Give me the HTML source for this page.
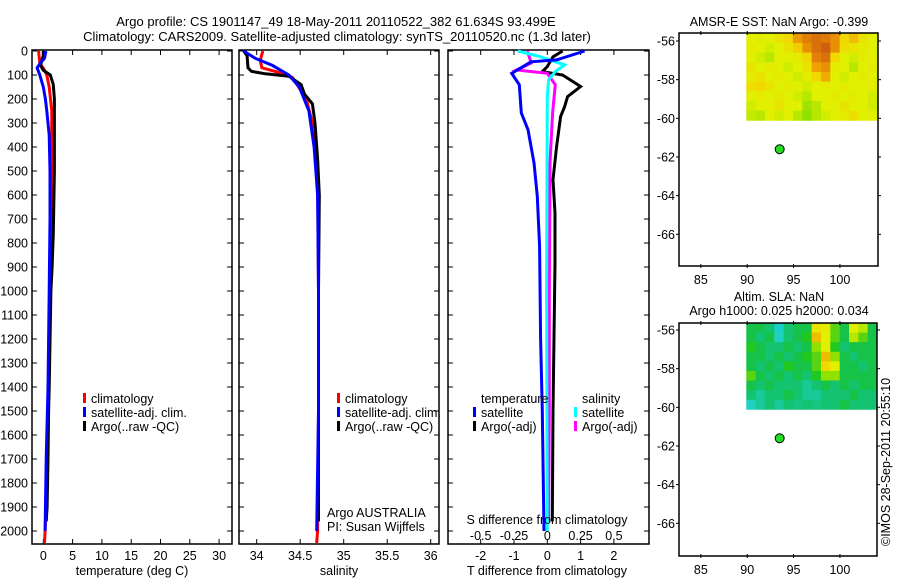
<!DOCTYPE html>
<html><head><meta charset="utf-8">
<style>
html,body{margin:0;padding:0;background:#fff;}
svg{display:block;font-family:"Liberation Sans",sans-serif;}
</style></head>
<body>
<svg id="chart" width="900" height="580" viewBox="0 0 900 580" xmlns="http://www.w3.org/2000/svg">
<text x="336" y="26" font-size="13" text-anchor="middle">Argo profile: CS 1901147_49 18-May-2011 20110522_382 61.634S 93.499E</text>
<text x="337" y="41" font-size="13" text-anchor="middle">Climatology: CARS2009. Satellite-adjusted climatology: synTS_20110520.nc (1.3d later)</text>
<g id="g"></g>
</svg>
<script>
// ---------- data ----------
const depthTicks = [0,100,200,300,400,500,600,700,800,900,1000,1100,1200,1300,1400,1500,1600,1700,1800,1900,2000];
const tempTicks = [0,5,10,15,20,25,30];
const salTicks = [34,34.5,35,35.5,36];
const salTickLabels = ["34","34.5","35","35.5","36"];
const tdiffTicks = [-2,-1,0,1,2];
const sdiffTicks = [-0.5,-0.25,0,0.25,0.5];
const sdiffTickLabels = ["-0.5","-0.25","0","0.25","0.5"];
const lonTicks = [85,90,95,100];
const latTicks = [-56,-58,-60,-62,-64,-66];

const tClimDepth = [0,50,80,100,150,250,500,800,1000,1400,1800,2000,2050];
const tClimVal = [-0.8,-0.6,0.2,0.6,1.0,1.45,1.4,1.3,1.2,0.9,0.6,0.3,0.2];
const tSatDepth = [0,30,50,70,100,150,200,250,350,500,700,1000,1400,1700,2000];
const tSatVal = [0.45,0.2,-0.5,-1.05,-0.6,0,0.35,0.6,1.0,1.15,1.15,1.0,0.8,0.5,0.3];
const tArgoDepth = [0,20,60,80,100,140,200,500,760,900,1000,1400,1500,1700,1900,1960];
const tArgoVal = [0,0,-0.5,0,1.2,1.7,1.9,1.9,1.7,1.5,1.3,1.0,0.9,0.8,0.65,0.5];

const sClimDepth = [0,40,70,90,110,200,300,500,1000,1500,2000,2050];
const sClimVal = [34.07,34.04,34.06,34.26,34.41,34.57,34.64,34.70,34.71,34.71,34.70,34.69];
const sArgoDepth = [0,20,70,85,95,105,140,180,220,300,450,600,1000,1400,1960];
const sArgoVal = [33.85,33.89,33.9,33.94,34.1,34.37,34.51,34.55,34.64,34.67,34.70,34.72,34.71,34.71,34.71];
const sSatDepth = [0,30,60,100,150,250,400,600,1000,1500,2000];
const sSatVal = [33.85,33.98,34.18,34.37,34.49,34.60,34.66,34.70,34.71,34.71,34.69];

const dTSatDepth = [0,37,45,93,141,258,328,466,606,815,1200,1500,2000];
const dTSatVal = [1.12,0.28,-0.49,-1.07,-0.84,-0.78,-0.58,-0.4,-0.3,-0.23,-0.2,-0.15,-0.1];
const dTArgoDepth = [0,24,65,86,100,148,190,232,273,398,536,675,883,1500,1960];
const dTArgoVal = [0.46,0.17,0,-0.15,0.46,1.0,0.61,0.52,0.4,0.28,0.17,0.23,0.23,0.17,0.15];
const dSSatDepth = [0,24,58,86,120,190,1000,2000];
const dSSatVal = [-0.22,-0.05,0.13,0.06,0.01,0,-0.005,0];
const dSArgoDepth = [0,50,79,93,141,258,466,1000,1500,1960];
const dSArgoVal = [-0.15,-0.12,-0.23,0,0.06,0.04,0.02,0.015,0.015,0.01];

const sstGrid = [
[.6,.62,.6,.65,.7,.82,.9,.95,.92,.85,.7,.75,.65,.6],
[.62,.6,.58,.6,.65,.72,.85,.95,1,.85,.68,.65,.62,.6],
[.6,.58,.55,.6,.6,.62,.7,.9,.95,.7,.6,.58,.62,.6],
[.65,.6,.62,.6,.58,.6,.65,.8,.85,.62,.6,.55,.6,.62],
[.62,.65,.6,.62,.6,.58,.62,.7,.78,.6,.58,.6,.62,.6],
[.68,.7,.65,.6,.62,.6,.58,.6,.62,.6,.62,.6,.6,.62],
[.6,.62,.6,.62,.6,.58,.55,.6,.6,.62,.6,.62,.6,.58],
[.58,.6,.6,.65,.6,.6,.52,.55,.6,.6,.65,.6,.6,.58],
[.56,.55,.6,.58,.6,.55,.5,.55,.58,.6,.62,.68,.6,.6]];
const slaGrid = [
[.35,.35,.3,.15,.3,.35,.35,.65,.62,.45,.35,.6,.55,.35],
[.35,.3,.35,.2,.3,.35,.4,.75,.6,.45,.35,.55,.45,.35],
[.4,.35,.3,.3,.35,.3,.35,.5,.6,.4,.3,.35,.35,.35],
[.35,.35,.3,.35,.3,.35,.4,.45,.75,.5,.35,.3,.35,.35],
[.35,.3,.35,.3,.4,.35,.35,.45,.7,.6,.35,.35,.3,.35],
[.45,.35,.3,.35,.3,.35,.3,.4,.5,.5,.35,.35,.35,.35],
[.35,.3,.35,.3,.3,.3,.25,.3,.35,.3,.35,.3,.35,.35],
[.3,.25,.3,.3,.35,.3,.25,.25,.3,.3,.3,.35,.3,.3],
[.2,.25,.3,.25,.3,.28,.3,.28,.3,.3,.35,.3,.3,.3]];
const gridLonRange = [89.9,104];
const gridLatRange = [-55.6,-60.1];
const argoLon = 93.5;
const argoLat = -61.6;

// ---------- helpers ----------
const NS = "http://www.w3.org/2000/svg";
const G = document.getElementById('g');
function mk(tag, attrs, parent){
  const e = document.createElementNS(NS, tag);
  for (const k in attrs) e.setAttribute(k, attrs[k]);
  (parent||G).appendChild(e);
  return e;
}
function txt(x,y,s,anchor,size){
  const e = mk('text',{x:x,y:y,'font-size':size||12,'text-anchor':anchor||'start'});
  e.textContent = s;
  return e;
}
const yTop = 50, yBot = 544;
const yD = d => 51 + d*0.2400;

const panels = [
  {x0:32,x1:232,name:'temperature-panel'},
  {x0:239,x1:439,name:'salinity-panel'},
  {x0:448,x1:649,name:'difference-panel'}
];
const xT = v => 43.3 + v*5.86;
const xS = v => 256.7 + (v-34)*87;
const xDT = v => 547.3 + v*33.3;
const xDS = v => 547.3 + v*133.2;

panels.forEach((p,i)=>{
  const r = mk('rect',{x:p.x0,y:yTop,width:p.x1-p.x0,height:yBot-yTop,fill:'none',stroke:'#000','stroke-width':1.5});
  
  
  depthTicks.forEach(d=>{
    const y = yD(d);
    const t1 = mk('line',{x1:p.x0,x2:p.x0+5,y1:y,y2:y,stroke:'#000'});
    
    
    const t2 = mk('line',{x1:p.x1-5,x2:p.x1,y1:y,y2:y,stroke:'#000'});
    
    
  });
});
depthTicks.forEach(d=>{
  const t = txt(28, yD(d)+4.5, String(d), 'end', 12.5);
  
  
});

function xTicks(vals, labels, sx, labelY, top, bottom){
  vals.forEach((v,i)=>{
    const x = sx(v);
    if (top){
      const a = mk('line',{x1:x,x2:x,y1:yTop,y2:yTop+5,stroke:'#000'});
      
      
    }
    if (bottom){
      const b = mk('line',{x1:x,x2:x,y1:yBot-5,y2:yBot,stroke:'#000'});
      
      
    }
    if (labelY){
      const t = txt(x, labelY, labels ? labels[i] : String(v), 'middle', 12.5);
      
      
    }
  });
}
xTicks(tempTicks, null, xT, 560, true, true);
xTicks(salTicks, salTickLabels, xS, 560, true, true);
xTicks(tdiffTicks, null, xDT, 560, true, true);
sdiffTickLabels.forEach((s,i)=>{
  const t = txt(xDS(sdiffTicks[i]), 540, s, 'middle', 12.5);
  
  
});

function profile(depths, vals, sx, color, name){
  const pts = depths.map((d,i)=> sx(vals[i]).toFixed(1)+','+yD(d).toFixed(1)).join(' ');
  const e = mk('polyline',{points:pts,fill:'none',stroke:color,'stroke-width':3,'stroke-linejoin':'miter'});
  
  
}
profile(tClimDepth,tClimVal,xT,'#ff0000','temp-climatology-line');
profile(tArgoDepth,tArgoVal,xT,'#000000','temp-argo-line');
profile(tSatDepth,tSatVal,xT,'#0000ff','temp-satellite-line');
profile(sClimDepth,sClimVal,xS,'#ff0000','sal-climatology-line');
profile(sArgoDepth,sArgoVal,xS,'#000000','sal-argo-line');
profile(sSatDepth,sSatVal,xS,'#0000ff','sal-satellite-line');
profile(dTArgoDepth,dTArgoVal,xDT,'#000000','tdiff-argo-line');
profile(dSArgoDepth,dSArgoVal,xDS,'#ff00ff','sdiff-argo-line');
profile(dSSatDepth,dSSatVal,xDS,'#00ffff','sdiff-satellite-line');
profile(dTSatDepth,dTSatVal,xDT,'#0000ff','tdiff-satellite-line');

[['temperature (deg C)',132,575,'temperature-axis-title'],['salinity',339,575,'salinity-axis-title'],
 ['T difference from climatology',547,575,'t-diff-axis-title'],['S difference from climatology',547,524,'s-diff-axis-title']].forEach(a=>{
  const t = txt(a[1],a[2],a[0],'middle',12.5);
  
  
});

function legendItem(x,y,color,label){
  const r = mk('rect',{x:x,y:y-10,width:3,height:10,fill:color});
  
  
  const t = txt(x+8,y,label,'start',12.5);
  
  
}
legendItem(83,403,'#ff0000','climatology');
legendItem(83,417,'#0000ff','satellite-adj. clim.');
legendItem(83,431,'#000000','Argo(..raw -QC)');
legendItem(337,403,'#ff0000','climatology');
legendItem(337,417,'#0000ff','satellite-adj. clim.');
legendItem(337,431,'#000000','Argo(..raw -QC)');
let t1 = txt(481,403,'temperature','start',12.5);


let t2 = txt(582,403,'salinity','start',12.5);


legendItem(473,417,'#0000ff','satellite');
legendItem(473,431,'#000000','Argo(-adj)');
legendItem(574,417,'#00ffff','satellite');
legendItem(574,431,'#ff00ff','Argo(-adj)');
let a1 = txt(327,517,'Argo AUSTRALIA','start',12.5);


let a2 = txt(327,531,'PI: Susan Wijffels','start',12.5);



// ---------- maps ----------
const cmapStops = [[0,[0,208,224]],[0.2,[32,208,192]],[0.32,[16,192,96]],[0.4,[32,200,32]],[0.5,[144,224,0]],[0.6,[224,240,0]],[0.7,[240,216,0]],[0.8,[240,160,0]],[1,[208,96,16]]];
function cmap(v){
  for (let i=1;i<cmapStops.length;i++){
    if (v<=cmapStops[i][0]){
      const a=cmapStops[i-1], b=cmapStops[i], f=(v-a[0])/(b[0]-a[0]);
      const c=a[1].map((q,k)=>Math.round(q+(b[1][k]-q)*f));
      return 'rgb('+c.join(',')+')';
    }
  }
  return 'rgb(208,96,16)';
}
function drawMap(m){
  const sx = lon => m.x0 + (lon-82.64)*9.27;
  const sy = lat => m.yRef + (-56-lat)*19.33;
  const rows = m.grid.length, cols = m.grid[0].length;
  const gx0 = sx(gridLonRange[0]), gx1 = Math.min(m.x1, sx(gridLonRange[1]));
  const gy0 = Math.max(m.y0, sy(gridLatRange[0])), gy1 = sy(gridLatRange[1]);
  const cw = (gx1-gx0)/cols, ch = (gy1-gy0)/rows;
  m.grid.forEach((row,r)=>row.forEach((v,c)=>{
    const e = mk('rect',{x:(gx0+c*cw).toFixed(2),y:(gy0+r*ch).toFixed(2),width:(cw+0.5).toFixed(2),height:(ch+0.5).toFixed(2),fill:cmap(v)});
    
    
  }));
  const fr = mk('rect',{x:m.x0,y:m.y0,width:m.x1-m.x0,height:m.y1-m.y0,fill:'none',stroke:'#000','stroke-width':1.5});
  
  
  lonTicks.forEach(l=>{
    const x = sx(l);
    const a = mk('line',{x1:x,x2:x,y1:m.y0-2,y2:m.y0+2,stroke:'#000'});
    
    
    const b = mk('line',{x1:x,x2:x,y1:m.y1-2,y2:m.y1+2,stroke:'#000'});
    
    
    const t = txt(x, m.y1+18, String(l), 'middle', 12.5);
    
    
  });
  latTicks.forEach(l=>{
    const y = sy(l);
    const a = mk('line',{x1:m.x0-3,x2:m.x0,y1:y,y2:y,stroke:'#000'});
    
    
    const b = mk('line',{x1:m.x1,x2:m.x1+3,y1:y,y2:y,stroke:'#000'});
    
    
    const t = txt(m.x0-4, y+4.5, String(l), 'end', 12.5);
    
    
  });
  const dot = mk('circle',{cx:sx(argoLon),cy:sy(argoLat),r:4.5,fill:'#22dd22',stroke:'#000','stroke-width':1});
  
  
  m.titles.forEach((s,i)=>{
    const t = txt(779, m.titleY+i*14, s, 'middle', 12.5);
    
    
  });
}
drawMap({name:'sst-map',grid:sstGrid,x0:679,x1:878,y0:33,y1:266,yRef:41,titleY:26,titles:['AMSR-E SST: NaN Argo: -0.399']});
drawMap({name:'sla-map',grid:slaGrid,x0:679,x1:877,y0:323,y1:556,yRef:330,titleY:301,titles:['Altim. SLA: NaN','Argo h1000: 0.025 h2000: 0.034']});

const cr = txt(0,0,'\u00A9IMOS 28-Sep-2011 20:55:10','start',12.5);
cr.setAttribute('transform','translate(890,546) rotate(-90)');


</script>
</body></html>
